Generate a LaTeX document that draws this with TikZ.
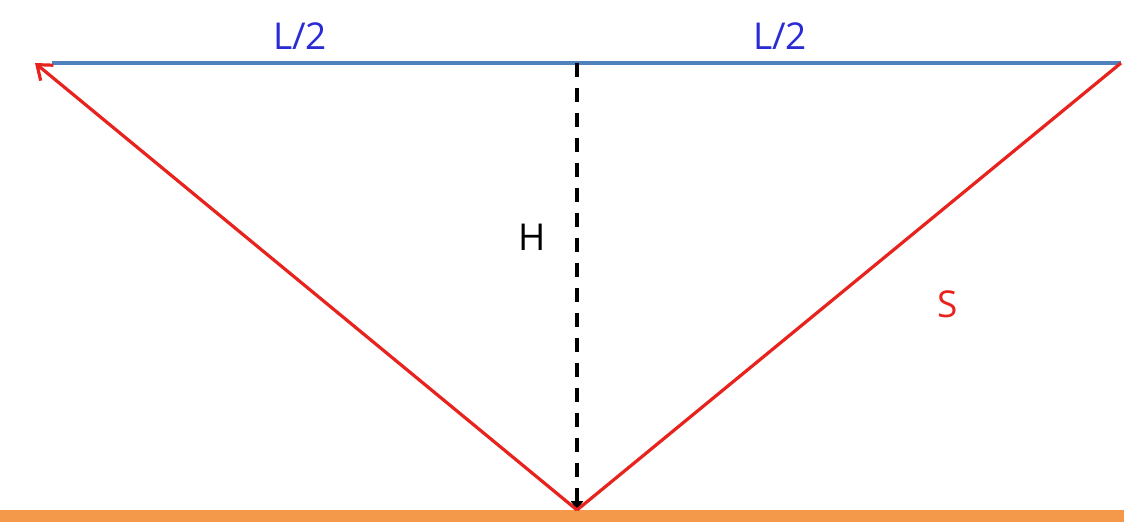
\documentclass[tikz,border=0pt]{standalone}
\usepackage{fontspec}
\setmainfont{Open Sans}
\usetikzlibrary{arrows.meta}
\definecolor{lineblue}{HTML}{4F81BD}
\definecolor{txtblue}{HTML}{2A2AD6}
\definecolor{rayred}{HTML}{E8231E}
\definecolor{floor}{HTML}{F4984A}
\tikzset{
  lbl/.style={inner sep=0pt, font=\fontsize{37}{40}\selectfont},
  ray/.style={draw=rayred, line width=3.2pt},
}
\begin{document}
\begin{tikzpicture}[x=1pt,y=-1pt]
\useasboundingbox (0,0) rectangle (1124,526);
\fill[white] (0,0) rectangle (1124,526);
% points
\coordinate (TL) at (52,63);
\coordinate (TA) at (35,63);
\coordinate (TM) at (577,63);
\coordinate (TR) at (1121,63);
\coordinate (B) at (577,510);
\coordinate (FL) at (0,516);
\coordinate (FR) at (1124,516);
% floor
\draw[floor, line width=12pt] (FL) -- (FR);
% top line
\draw[lineblue, line width=3.2pt] (TL) -- (TR);
% height
\draw[black, line width=4pt, dash pattern=on 14pt off 11pt, -{Triangle[length=9pt,width=12pt]}] (TM) -- (B);
% rays
\draw[ray] (TR) -- (B);
\draw[ray, -{Straight Barb[length=13pt,width=20pt,line width=3.2pt]}] (B) -- (TA);
% labels
\node[lbl, text=txtblue] (l1) at (300,36) {L/2};
\node[lbl, text=txtblue] (l2) at (780,36) {L/2};
\node[lbl, text=black] (h) at (532,237) {H};
\node[lbl, text=rayred] (s) at (948,304) {S};
\end{tikzpicture}
\end{document}
